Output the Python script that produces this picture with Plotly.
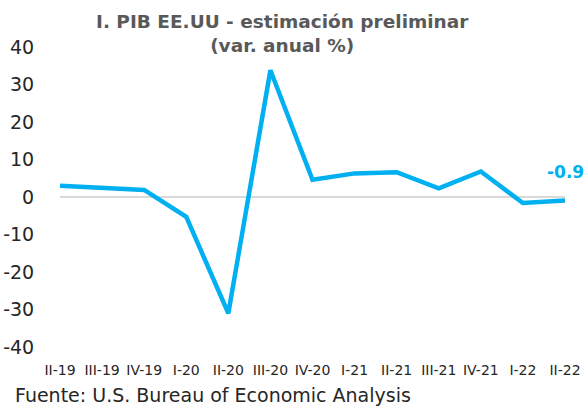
import plotly.graph_objects as go

categories = ["II-19", "III-19", "IV-19", "I-20", "II-20", "III-20", "IV-20",
              "I-21", "II-21", "III-21", "IV-21", "I-22", "II-22"]
pib_var = [3.0, 2.5, 1.9, -5.3, -31.0, 33.8, 4.6, 6.3, 6.6, 2.3, 6.8, -1.6, -0.9]
y_ticks = [-40, -30, -20, -10, 0, 10, 20, 30, 40]
y_tick_labels = ["-40", "-30", "-20", "-10", "0", "10", "20", "30", "40"]
title_text = "I. PIB EE.UU - estimación preliminar<br>(var. anual %)"
source_text = "Fuente: U.S. Bureau of Economic Analysis"

BLUE = "#00B0F0"
FONT = "DejaVu Sans"
W, H = 587, 409
L, R, T, B = 60, 22, 47, 62
PW, PH = W - L - R, H - T - B


def px_x(p):
    return (p - L) / PW


def px_y(p):
    return (H - B - p) / PH


fig = go.Figure()
fig.add_trace(go.Scatter(
    x=categories, y=pib_var, mode="lines",
    line=dict(color=BLUE, width=4.5), showlegend=False, hoverinfo="x+y",
))

fig.add_annotation(
    x=categories[-1], y=pib_var[-1], xref="x", yref="y",
    text="<b>%s</b>" % pib_var[-1], showarrow=False, yshift=28,
    font=dict(family=FONT, size=17, color=BLUE),
)
fig.add_annotation(
    x=px_x(282), y=px_y(9), xref="paper", yref="paper",
    xanchor="center", yanchor="top", text="<b>%s</b>" % title_text,
    showarrow=False, align="center",
    font=dict(family=FONT, size=18.5, color="#595959"),
)
fig.add_annotation(
    x=px_x(13), y=px_y(408), xref="paper", yref="paper",
    xanchor="left", yanchor="bottom", text=source_text, showarrow=False,
    font=dict(family=FONT, size=19, color="#262626"),
)

fig.update_layout(
    width=W, height=H,
    margin=dict(l=L, r=R, t=T, b=B, autoexpand=False),
    paper_bgcolor="white", plot_bgcolor="white",
    xaxis=dict(type="category", categoryorder="array", categoryarray=categories,
               range=[0, 12], showgrid=False, zeroline=False, showline=False,
               ticks="outside", ticklen=10, tickcolor="rgba(0,0,0,0)",
               automargin=False,
               tickfont=dict(family=FONT, size=14, color="#262626")),
    yaxis=dict(range=[-40, 40], tickvals=y_ticks, ticktext=y_tick_labels,
               showgrid=False,
               zeroline=True, zerolinecolor="#D9D9D9", zerolinewidth=2,
               showline=False, ticks="outside", ticklen=21, automargin=False,
               tickcolor="rgba(0,0,0,0)",
               tickfont=dict(family=FONT, size=19, color="#262626")),
)

fig.write_html("out.html", config={"displayModeBar": False},
               post_script="document.body.style.margin='0';"
                           "document.body.style.overflow='hidden';")
